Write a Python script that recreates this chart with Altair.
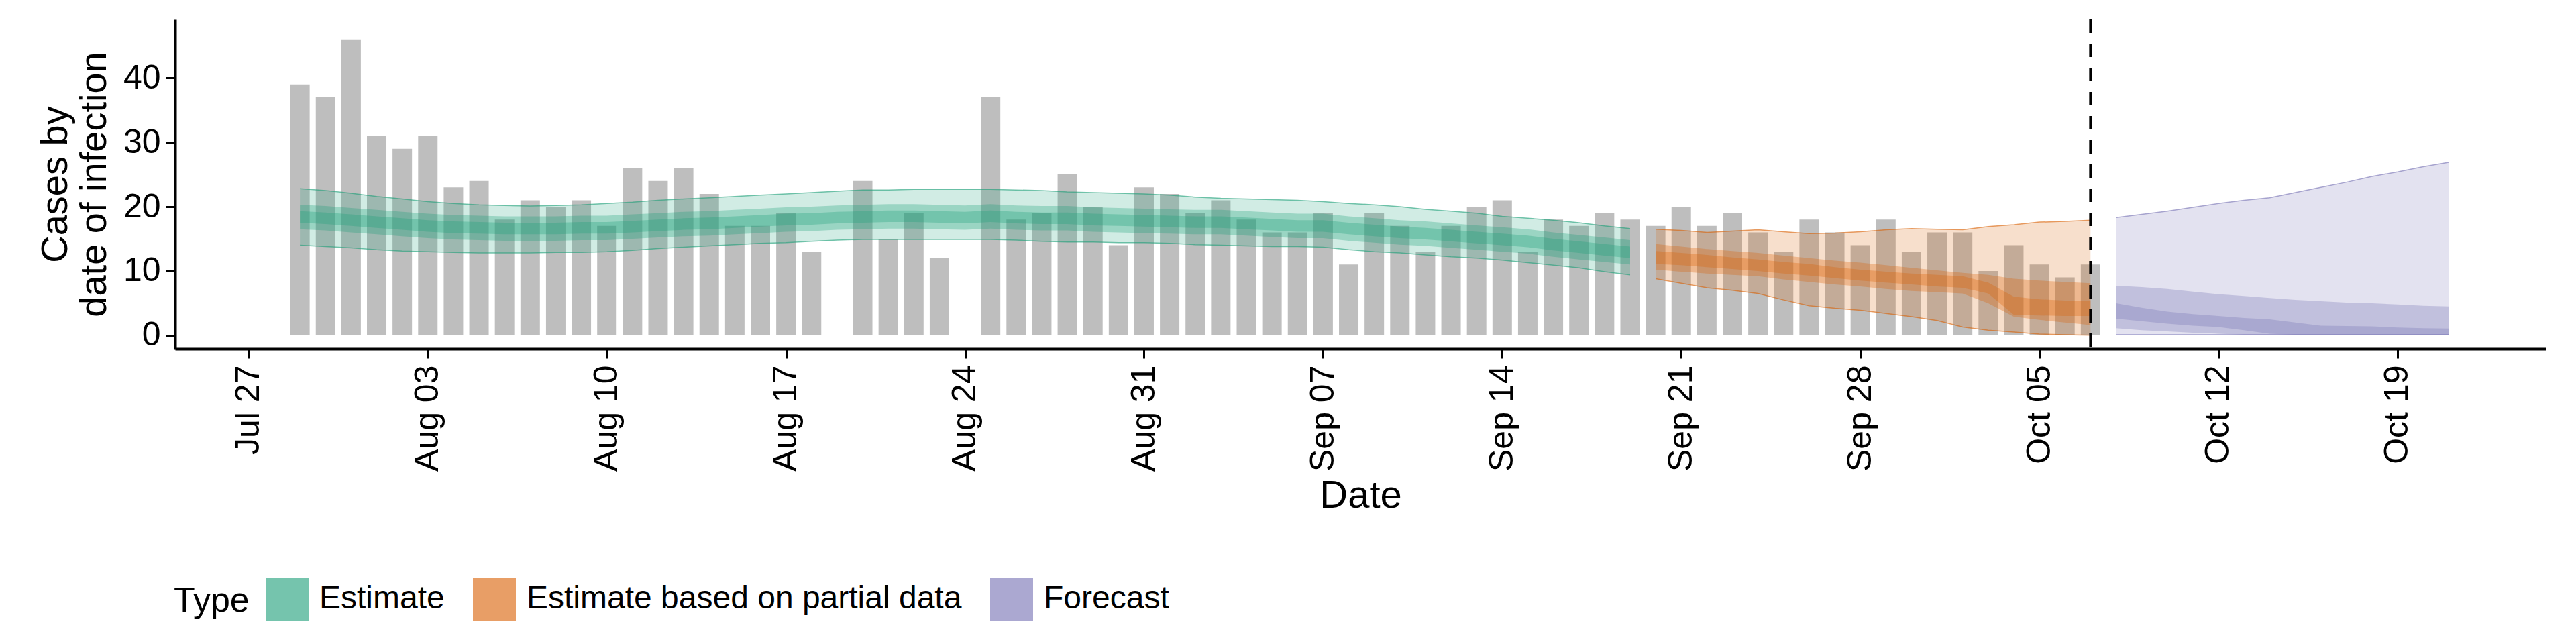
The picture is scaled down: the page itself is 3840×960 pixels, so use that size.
import altair as alt
import pandas as pd

# observed cases by date of infection, daily from Jul 29 to Oct 07
CASE_START = "2020-07-29"
CASES = [
    39, 37, 46, 31, 29, 31, 23, 24, 18, 21, 20, 21, 17, 26, 24, 26, 22, 17, 17, 19,
    13, 0, 24, 15, 19, 12, 0, 37, 18, 19, 25, 20, 14, 23, 22, 19, 21, 18, 16, 16,
    19, 11, 19, 17, 13, 17, 20, 21, 13, 18, 17, 19, 18, 17, 20, 17, 19, 16, 13, 18,
    16, 14, 18, 13, 16, 16, 10, 14, 11, 9, 11,
]

# Estimate (Jul 29 - Sep 19)
EST_START = "2020-07-29"
EST_MEDIAN = [
    18.4, 18.2, 17.9, 17.6, 17.3, 17.0, 16.8, 16.7, 16.6, 16.6, 16.6, 16.7, 16.7, 16.9,
    17.1, 17.3, 17.4, 17.6, 17.8, 18.0, 18.1, 18.3, 18.4, 18.5, 18.5, 18.4, 18.3, 18.5,
    18.3, 18.2, 18.2, 18.0, 17.9, 17.8, 17.7, 17.6, 17.6, 17.4, 17.2, 17.0, 17.0, 16.6,
    16.3, 16.0, 15.8, 15.5, 15.2, 14.9, 14.6, 14.1, 13.7, 13.3, 12.9,
]
EST_HI90 = [
    22.8, 22.5, 22.1, 21.6, 21.2, 20.8, 20.5, 20.3, 20.2, 20.1, 20.2, 20.3, 20.5, 20.7,
    21.0, 21.2, 21.4, 21.6, 21.8, 22.0, 22.2, 22.4, 22.6, 22.6, 22.7, 22.7, 22.7, 22.7,
    22.6, 22.5, 22.3, 22.2, 22.1, 22.0, 21.8, 21.5, 21.3, 21.2, 21.1, 21.0, 20.8, 20.5,
    20.3, 20.0, 19.6, 19.3, 19.0, 18.5, 18.2, 17.9, 17.5, 17.0, 16.6,
]
EST_LO90 = [
    14.0, 13.8, 13.6, 13.3, 13.1, 13.0, 12.9, 12.8, 12.8, 12.8, 12.9, 12.9, 13.0, 13.2,
    13.5, 13.7, 13.9, 14.1, 14.3, 14.4, 14.6, 14.8, 14.9, 14.9, 14.9, 14.9, 14.9, 14.9,
    14.8, 14.6, 14.5, 14.5, 14.4, 14.4, 14.3, 14.1, 14.0, 13.9, 13.8, 13.8, 13.7, 13.3,
    13.0, 12.8, 12.5, 12.2, 12.0, 11.7, 11.3, 10.9, 10.5, 9.9, 9.4,
]
EST_HALF50 = 1.9
EST_HALF20 = 0.9

# Estimate based on partial data (Sep 20 - Oct 07)
PART_START = "2020-09-20"
PART_HI90 = [16.5, 16.3, 16.0, 16.2, 16.4, 16.1, 15.8, 15.9, 16.1, 16.4, 16.6, 16.5, 16.4, 16.9, 17.2, 17.6, 17.7, 17.9]
PART_LO90 = [8.8, 8.1, 7.4, 7.0, 6.5, 5.5, 4.6, 4.2, 3.9, 3.4, 2.9, 2.3, 1.3, 0.8, 0.5, 0.2, 0.1, 0.0]
PART_HI50 = [14.2, 13.8, 13.4, 13.1, 12.8, 12.4, 12.0, 11.6, 11.3, 10.9, 10.5, 10.1, 9.7, 9.4, 8.8, 8.5, 8.3, 8.1]
PART_LO50 = [10.2, 9.9, 9.6, 9.4, 9.2, 8.7, 8.3, 7.9, 7.6, 7.2, 6.9, 6.7, 6.5, 5.0, 2.9, 2.4, 2.0, 1.6]
PART_HI20 = [13.1, 12.8, 12.5, 12.1, 11.8, 11.4, 11.1, 10.6, 10.2, 9.9, 9.6, 9.4, 9.2, 8.2, 6.0, 5.6, 5.4, 5.3]
PART_LO20 = [11.1, 10.9, 10.6, 10.3, 10.0, 9.6, 9.3, 8.9, 8.5, 8.2, 7.9, 7.6, 7.4, 6.5, 3.2, 3.1, 3.0, 3.0]

# Forecast (Oct 08 - Oct 21)
FC_START = "2020-10-08"
FC_HI90 = [18.3, 18.8, 19.3, 19.9, 20.5, 21.0, 21.4, 22.2, 23.0, 23.8, 24.7, 25.4, 26.2, 26.9]
FC_LO90 = [0.1] * 14
FC_HI50 = [7.7, 7.5, 7.2, 6.8, 6.4, 6.1, 5.8, 5.5, 5.3, 5.1, 5.0, 4.8, 4.6, 4.5]
FC_LO50 = [1.1, 0.8, 0.6, 0.4, 0.25, 0.1, 0.05, 0.05, 0.05, 0.05, 0.05, 0.05, 0.05, 0.05]
FC_HI20 = [5.0, 4.3, 3.7, 3.3, 3.0, 2.7, 2.5, 2.0, 1.5, 1.45, 1.4, 1.2, 1.1, 1.05]
FC_LO20 = [2.6, 2.2, 1.8, 1.5, 1.3, 0.8, 0.25, 0.1, 0.05, 0.05, 0.05, 0.05, 0.05, 0.05]

TYPES = ["Estimate", "Estimate based on partial data", "Forecast"]
COLOURS = ["#1b9e77", "#d95f02", "#7570b3"]
TICK_DATES = ["2020-07-27", "2020-08-03", "2020-08-10", "2020-08-17", "2020-08-24",
              "2020-08-31", "2020-09-07", "2020-09-14", "2020-09-21", "2020-09-28",
              "2020-10-05", "2020-10-12", "2020-10-19"]
CUTOFF = "2020-10-07"
FONT = "Liberation Sans"


def band_frame(start, type_name, bands):
    n = len(bands["lo90"])
    df = pd.DataFrame(bands)
    df["date"] = pd.date_range(start, periods=n, freq="D")
    df["Type"] = type_name
    return df


est = band_frame(EST_START, TYPES[0], {
    "lo90": EST_LO90, "hi90": EST_HI90,
    "lo50": [m - EST_HALF50 for m in EST_MEDIAN], "hi50": [m + EST_HALF50 for m in EST_MEDIAN],
    "lo20": [m - EST_HALF20 for m in EST_MEDIAN], "hi20": [m + EST_HALF20 for m in EST_MEDIAN],
})
part = band_frame(PART_START, TYPES[1], {
    "lo90": PART_LO90, "hi90": PART_HI90, "lo50": PART_LO50, "hi50": PART_HI50,
    "lo20": PART_LO20, "hi20": PART_HI20,
})
fc = band_frame(FC_START, TYPES[2], {
    "lo90": FC_LO90, "hi90": FC_HI90, "lo50": FC_LO50, "hi50": FC_HI50,
    "lo20": FC_LO20, "hi20": FC_HI20,
})
bands = pd.concat([est, part, fc], ignore_index=True)

cases = pd.DataFrame({
    "date": pd.date_range(CASE_START, periods=len(CASES), freq="D"),
    "cases": CASES,
})

x_scale = alt.Scale(domain=["2020-07-24T06:00:00", "2020-10-24T16:00:00"])
y_scale = alt.Scale(domain=[-2.1, 49.1], nice=False, zero=False)
colour = alt.Scale(domain=TYPES, range=COLOURS)

x_axis = alt.Axis(
    values=TICK_DATES, format="%b %d", labelAngle=-90, title="Date", grid=False,
    labelFontSize=50, titleFontSize=58, labelColor="black", titleColor="black",
    titleFontWeight="normal", domainColor="black", domainWidth=4, tickColor="black",
    tickWidth=3, tickSize=14, labelPadding=10, titlePadding=8,
)
y_axis = alt.Axis(
    values=[0, 10, 20, 30, 40], title=["Cases by", "date of infection"], grid=False,
    labelFontSize=50, titleFontSize=56, labelColor="black", titleColor="black",
    titleFontWeight="normal", domainColor="black", domainWidth=4, tickColor="black",
    tickWidth=3, tickSize=14, labelPadding=8, titlePadding=14, titleLineHeight=58,
)

bars = alt.Chart(cases).mark_bar(size=29, color="#bebebe").encode(
    x=alt.X("date:T", scale=x_scale, axis=x_axis),
    y=alt.Y("cases:Q", scale=y_scale, axis=y_axis),
)

base = alt.Chart(bands).encode(x=alt.X("date:T", scale=x_scale))


def ribbon(lo, hi, opacity, legend=None):
    return base.mark_area(opacity=opacity).encode(
        y=alt.Y(f"{lo}:Q", scale=y_scale),
        y2=f"{hi}:Q",
        color=alt.Color("Type:N", scale=colour, legend=legend),
        detail="Type:N",
    )


legend = alt.Legend(
    title="Type", orient="none", legendX=-2, legendY=832, direction="horizontal",
    titleOrient="left", titleFontSize=52, titleFontWeight="normal", titleColor="black",
    labelFontSize=48, labelColor="black", labelLimit=1000, symbolType="square",
    symbolSize=3600, symbolOpacity=0.6, symbolStrokeWidth=4, columnPadding=36,
    labelOffset=16, titlePadding=24,
)

edges = []
for col in ["lo90", "hi90"]:
    edges.append(base.mark_line(strokeWidth=1.5, opacity=0.6).encode(
        y=alt.Y(f"{col}:Q", scale=y_scale),
        color=alt.Color("Type:N", scale=colour, legend=None),
        detail="Type:N",
    ))

cutoff = alt.Chart(pd.DataFrame({"date": [CUTOFF]})).mark_rule(
    color="black", strokeDash=[20, 16], strokeWidth=4
).encode(x=alt.X("date:T", scale=x_scale), y=alt.value(0), y2=alt.value(491))

chart = alt.layer(
    bars,
    ribbon("lo90", "hi90", 0.2, legend),
    ribbon("lo50", "hi50", 0.3),
    ribbon("lo20", "hi20", 0.3),
    *edges,
    cutoff,
).properties(
    width=3534, height=491, autosize="none",
    padding={"left": 253, "top": 21, "right": 37, "bottom": 432},
).configure(font=FONT).configure_view(stroke=None)

chart.save("out.html", embed_options={"renderer": "svg", "actions": False})
